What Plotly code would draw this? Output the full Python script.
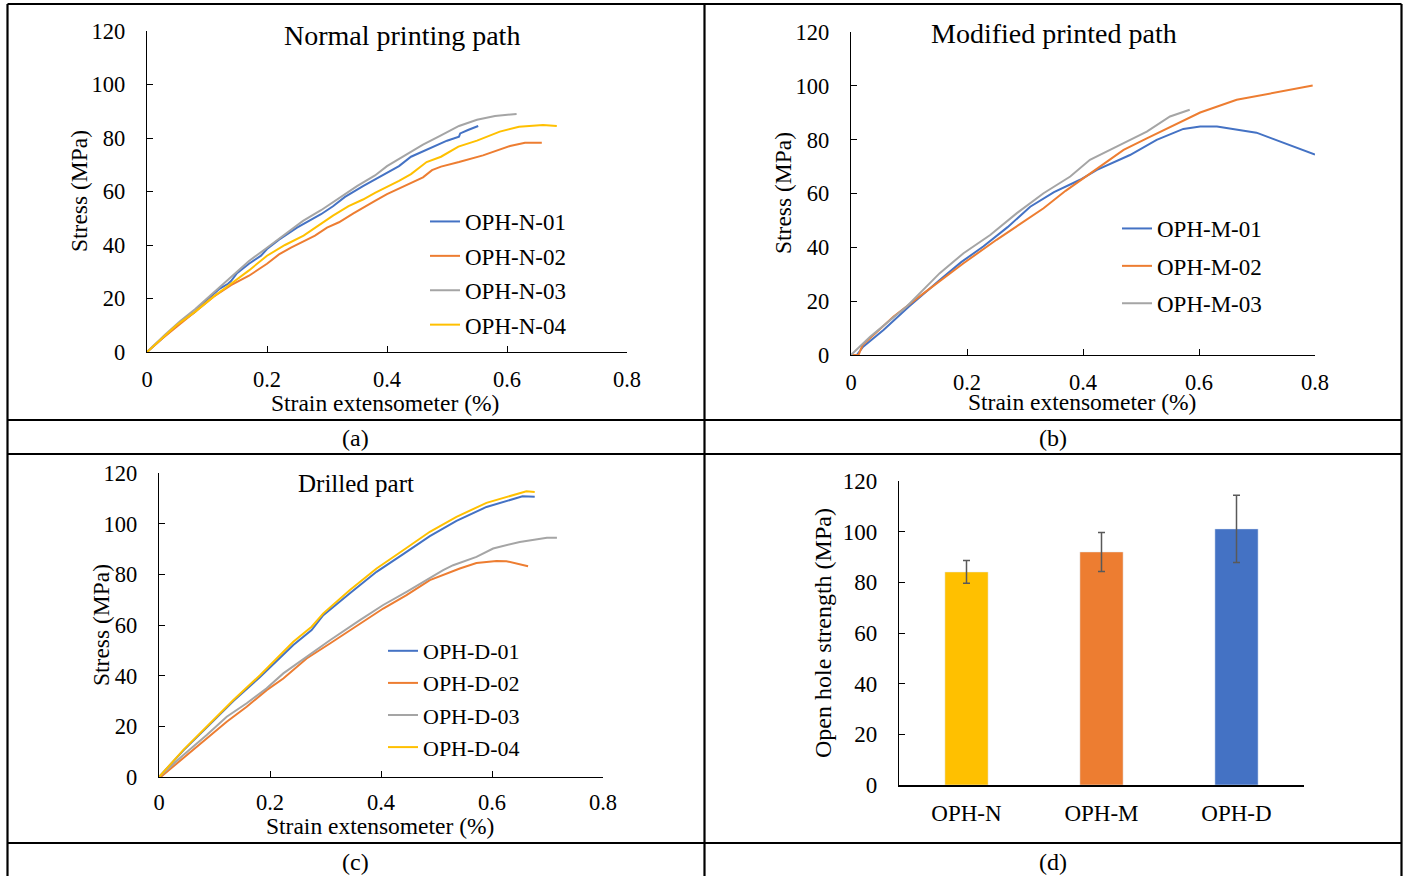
import plotly.graph_objects as go

W, H = 1407, 876
SERIF = "Liberation Serif"

BLUE, ORANGE, GREY, YELLOW = "#4472C4", "#ED7D31", "#A5A5A5", "#FFC000"

# ---------------- (a) Normal printing path ----------------
n01_x = [0, 0.03, 0.055, 0.08, 0.1, 0.12, 0.135, 0.14, 0.15, 0.17, 0.19, 0.2, 0.22, 0.25, 0.27, 0.29,
         0.31, 0.33, 0.36, 0.38, 0.4, 0.42, 0.44, 0.46, 0.48, 0.5, 0.52, 0.522, 0.535, 0.552]
n01_y = [0, 6, 11, 15, 19.5, 23.5, 25.5, 26.5, 29.5, 33, 36, 38.5, 42, 46.5, 49, 51.5,
         54.5, 58, 62, 64.5, 67, 69.5, 73, 75, 77, 79, 80.5, 81.7, 83, 84.5]
n02_x = [0, 0.025, 0.05, 0.08, 0.111, 0.14, 0.17, 0.2, 0.22, 0.24, 0.261, 0.28, 0.3, 0.32, 0.344, 0.36,
         0.38, 0.4, 0.42, 0.44, 0.46, 0.475, 0.49, 0.52, 0.56, 0.605, 0.63, 0.658]
n02_y = [0, 5, 9.5, 15, 20.7, 25, 28.5, 33, 36.5, 39, 41.2, 43.5, 46.5, 48.5, 51.8, 54,
         56.5, 59, 61, 63, 65.3, 68, 69.3, 71, 73.5, 77, 78.2, 78.2]
n03_x = [0, 0.03, 0.055, 0.08, 0.1, 0.13, 0.15, 0.17, 0.2, 0.23, 0.26, 0.29, 0.32, 0.35, 0.38, 0.4,
         0.43, 0.46, 0.49, 0.52, 0.55, 0.58, 0.616]
n03_y = [0, 6.5, 11.5, 16, 20, 26, 30, 34, 39, 44, 49, 53, 57.5, 62, 66, 69.5,
         73.5, 77.5, 81, 84.5, 86.8, 88.2, 89]
n04_x = [0, 0.025, 0.049, 0.08, 0.111, 0.14, 0.17, 0.2, 0.23, 0.261, 0.29, 0.31, 0.336, 0.36, 0.38, 0.4,
         0.42, 0.44, 0.466, 0.49, 0.519, 0.55, 0.588, 0.62, 0.66, 0.683]
n04_y = [0, 5, 10, 15, 20.7, 25.5, 30.5, 36, 40, 43.5, 48, 51, 54.5, 57, 59.5, 61.6,
         64, 66.5, 71, 73, 76.8, 79, 82.4, 84.2, 84.9, 84.5]

# ---------------- (b) Modified printed path ----------------
m01_x = [0.01, 0.021, 0.056, 0.1, 0.153, 0.19, 0.228, 0.27, 0.309, 0.35, 0.395, 0.424, 0.481,
         0.527, 0.573, 0.602, 0.631, 0.699, 0.8]
m01_y = [0, 3.1, 9.3, 18, 27.9, 34.5, 40.3, 47.5, 55.1, 60.5, 65.1, 68.8, 74.3,
         79.9, 84.0, 84.9, 84.9, 82.6, 74.5]
m02_x = [0, 0.013, 0.02, 0.073, 0.125, 0.194, 0.251, 0.29, 0.332, 0.37, 0.412, 0.47, 0.51,
         0.562, 0.602, 0.665, 0.796]
m02_y = [0, 0, 3.7, 14.2, 22.9, 34.1, 42.8, 48.5, 54.5, 61, 67.5, 76.2, 80.5,
         86.1, 90.1, 94.8, 100.1]
m03_x = [0, 0.033, 0.096, 0.136, 0.153, 0.194, 0.24, 0.286, 0.332, 0.378, 0.412, 0.464, 0.51,
         0.55, 0.584]
m03_y = [0, 6.8, 18.0, 26.6, 30.4, 37.8, 44.6, 52.7, 60.1, 66.3, 72.5, 78.1, 83.0,
         88.6, 91.1]

# ---------------- (c) Drilled part ----------------
d01_x = [0, 0.044, 0.089, 0.134, 0.182, 0.242, 0.275, 0.296, 0.344, 0.392, 0.44, 0.488, 0.536,
         0.59, 0.655, 0.677]
d01_y = [0, 10.5, 20.2, 30.0, 39.5, 52.1, 58.0, 63.9, 72.5, 81.0, 88.0, 95.1, 101.1,
         106.6, 110.8, 110.6]
d02_x = [0.003, 0.044, 0.086, 0.122, 0.158, 0.194, 0.224, 0.266, 0.308, 0.362, 0.404, 0.446, 0.488,
         0.542, 0.572, 0.608, 0.626, 0.665]
d02_y = [0, 7.4, 15.3, 21.8, 27.7, 34.3, 38.9, 46.8, 52.7, 60.6, 66.5, 71.8, 77.7,
         82.3, 84.5, 85.3, 85.2, 83.2]
d03_x = [0, 0.044, 0.086, 0.122, 0.158, 0.194, 0.224, 0.266, 0.308, 0.362, 0.404, 0.446, 0.512,
         0.53, 0.572, 0.602, 0.65, 0.699, 0.717]
d03_y = [0, 8.7, 16.6, 23.8, 29.1, 35.0, 40.9, 47.5, 54.0, 61.9, 67.9, 73.1, 81.7,
         83.6, 86.9, 90.2, 92.8, 94.4, 94.4]
d04_x = [0, 0.044, 0.089, 0.134, 0.182, 0.242, 0.275, 0.296, 0.344, 0.392, 0.44, 0.488, 0.536,
         0.59, 0.662, 0.677]
d04_y = [0, 10.7, 20.5, 30.4, 40.2, 53.4, 59.3, 64.6, 73.8, 82.3, 89.5, 96.8, 102.7,
         108.2, 112.8, 112.5]

# ---------------- (d) Open hole strength ----------------
groups = ["OPH-N", "OPH-M", "OPH-D"]
strength = [84.1, 92.0, 101.1]
strength_sd = [4.5, 7.7, 13.3]
bar_colors = [YELLOW, ORANGE, BLUE]


def fx(px):
    return px / W


def fy(py):
    return 1 - py / H


fig = go.Figure()

panels = [
    ("x", "y", "legend", [("OPH-N-01", n01_x, n01_y, BLUE), ("OPH-N-02", n02_x, n02_y, ORANGE),
                          ("OPH-N-03", n03_x, n03_y, GREY), ("OPH-N-04", n04_x, n04_y, YELLOW)]),
    ("x2", "y2", "legend2", [("OPH-M-01", m01_x, m01_y, BLUE), ("OPH-M-02", m02_x, m02_y, ORANGE),
                             ("OPH-M-03", m03_x, m03_y, GREY)]),
    ("x3", "y3", "legend3", [("OPH-D-01", d01_x, d01_y, BLUE), ("OPH-D-02", d02_x, d02_y, ORANGE),
                             ("OPH-D-03", d03_x, d03_y, GREY), ("OPH-D-04", d04_x, d04_y, YELLOW)]),
]
for xa, ya, lg, series in panels:
    for name, xs, ys, col in series:
        fig.add_trace(go.Scatter(x=xs, y=ys, mode="lines", name=name,
                                 line=dict(color=col, width=2),
                                 xaxis=xa, yaxis=ya, legend=lg, legendgroup=name))

fig.add_trace(go.Bar(x=groups, y=strength, marker_color=bar_colors, width=0.32,
                     error_y=dict(type="data", array=strength_sd, color="#595959",
                                  thickness=1.5, width=3.5),
                     showlegend=False, xaxis="x4", yaxis="y4"))

tickfont = dict(family=SERIF, size=22.5, color="#000")


def lin_axes(x0, x1, y0, y1, xstand, ystand):
    xa = dict(domain=[fx(x0), fx(x1)], range=[0, 0.8], dtick=0.2, tick0=0,
              showline=True, linecolor="#000", linewidth=1.3, ticks="inside", ticklen=6,
              tickcolor="#000", showgrid=False, zeroline=False, tickfont=tickfont,
              ticklabelstandoff=xstand, fixedrange=True, automargin=False)
    ya = dict(domain=[fy(y0), fy(y1)], range=[0, 120], dtick=20, tick0=0,
              showline=True, linecolor="#000", linewidth=1.3, ticks="inside", ticklen=6,
              tickcolor="#000", showgrid=False, zeroline=False, tickfont=tickfont,
              ticklabelstandoff=ystand, fixedrange=True, automargin=False)
    return xa, ya


xa1, ya1 = lin_axes(147, 627, 352, 31, 7, 16)
xa2, ya2 = lin_axes(851, 1315, 355, 32, 7, 16)
xa3, ya3 = lin_axes(159, 603, 777, 473, 5, 16)
ya1["anchor"] = "x"; xa1["anchor"] = "y"
ya2["anchor"] = "x2"; xa2["anchor"] = "y2"
ya3["anchor"] = "x3"; xa3["anchor"] = "y3"

xa4 = dict(domain=[fx(899), fx(1304)], type="category", range=[-0.5, 2.5], anchor="y4",
           showline=True, linecolor="#000", linewidth=2, ticks="", showgrid=False,
           tickfont=dict(family=SERIF, size=23, color="#000"), ticklabelstandoff=6,
           fixedrange=True, automargin=False)
ya4 = dict(domain=[fy(785), fy(481)], range=[0, 120], dtick=20, anchor="x4",
           showline=True, linecolor="#000", linewidth=1.3, ticks="inside", ticklen=6,
           tickcolor="#000", showgrid=False, zeroline=False,
           tickfont=dict(family=SERIF, size=23, color="#000"), ticklabelstandoff=16,
           fixedrange=True, automargin=False)


def legend_at(px, py, gap, size):
    return dict(x=fx(px), y=fy(py), xanchor="left", yanchor="top", bgcolor="rgba(0,0,0,0)",
                borderwidth=0, font=dict(family=SERIF, size=size, color="#000"),
                tracegroupgap=gap, traceorder="grouped", itemwidth=30)


annotations = []


def text(px, py, s, size, angle=0):
    annotations.append(dict(x=fx(px), y=fy(py), xref="paper", yref="paper", text=s,
                            showarrow=False, xanchor="center", yanchor="middle",
                            textangle=angle, font=dict(family=SERIF, size=size, color="#000")))


# panel titles
text(402, 36, "Normal printing path", 28)
text(1054, 33, "Modified printed path", 28)
text(356, 483, "Drilled part", 25)
# axis titles
text(385, 403, "Strain extensometer (%)", 23.5)
text(1082, 402, "Strain extensometer (%)", 23.5)
text(380, 826, "Strain extensometer (%)", 23.5)
text(79, 191, "Stress (MPa)", 23.5, -90)
text(783, 193, "Stress (MPa)", 23.5, -90)
text(101, 625, "Stress (MPa)", 23.5, -90)
text(823, 633, "Open hole strength (MPa)", 24, -90)
# sub-figure captions
text(356, 438, "(a)", 24)
text(1053, 438, "(b)", 24)
text(356, 862, "(c)", 24)
text(1053, 862, "(d)", 24)

# table rules around the sub-figures
shapes = []
rule = dict(color="#000", width=2.2)
for x0, y0, x1, y1 in [(7.5, 4, 1401.5, 4), (7.5, 4, 7.5, 880), (1401.5, 4, 1401.5, 880),
                       (704.5, 4, 704.5, 880), (7.5, 420, 1401.5, 420), (7.5, 454, 1401.5, 454),
                       (7.5, 843, 1401.5, 843)]:
    shapes.append(dict(type="line", xref="paper", yref="paper", x0=fx(x0), y0=fy(y0),
                       x1=fx(x1), y1=fy(y1), line=rule))

fig.update_layout(
    width=W, height=H, autosize=False, margin=dict(l=0, r=0, t=0, b=0, pad=0, autoexpand=False),
    paper_bgcolor="white", plot_bgcolor="white",
    xaxis=xa1, yaxis=ya1, xaxis2=xa2, yaxis2=ya2, xaxis3=xa3, yaxis3=ya3,
    xaxis4=xa4, yaxis4=ya4,
    legend=legend_at(425, 200, 1.5, 23),
    legend2=legend_at(1117, 207, 4.5, 23),
    legend3=legend_at(383, 630, 0.5, 22),
    annotations=annotations, shapes=shapes, showlegend=True,
)

fig.write_html("out.html",
               post_script="document.body.style.margin='0';document.body.style.overflow='hidden';")
